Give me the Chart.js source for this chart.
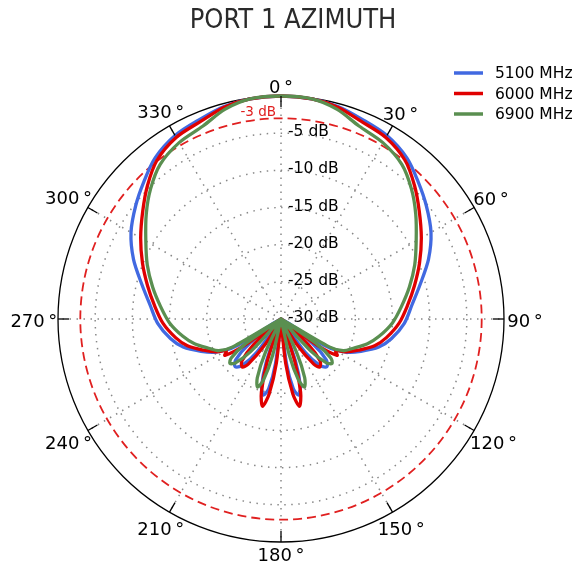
<!DOCTYPE html>
<html>
<head>
<meta charset="utf-8">
<script src="https://cdn.jsdelivr.net/npm/chart.js@4.4.1/dist/chart.umd.min.js"></script>
<style>
  html, body { margin: 0; padding: 0; background: #fff; }
  #wrap { position: relative; width: 584px; height: 565px; }
</style>
</head>
<body>
<div id="wrap"><canvas id="chart"></canvas></div>
<script>
// categories: one label per degree, clockwise from the top
const angleLabels = Array.from({ length: 360 }, (_, i) => i);
const angleTicks = [0, 30, 60, 90, 120, 150, 180, 210, 240, 270, 300, 330];
const ringValues = [-30, -25, -20, -15, -10, -5, -3, 0];
const ringLabels = [-5, -10, -15, -20, -25, -30];

const titleText = 'PORT 1 AZIMUTH';
const seriesNames = ['5100 MHz', '6000 MHz', '6900 MHz'];
const seriesColors = ['#4169e1', '#e00000', '#5a8f50'];

// 5100 MHz
const angles5100 = [0, 8, 15, 22, 30, 38, 45, 52, 60, 68, 76, 84, 92, 100, 106, 112, 117, 121, 124, 128, 132, 136, 140, 144, 148, 158, 161, 164, 167, 170, 173, 176, 180,
  184, 187, 190, 193, 196, 199, 202, 212, 216, 220, 224, 228, 232, 236, 239, 243, 248, 254, 260, 268, 276, 284, 292, 300, 308, 315, 322, 330, 338, 345, 352];
const gain5100 = [0, -0.1, -0.4, -1.0, -1.5, -2.5, -3.9, -5.2, -6.7, -8.6, -10.7, -12.3, -13.4, -14.9, -16.3, -18.4, -20.2, -22.8, -30, -24.5, -21.8, -21.1, -21.8, -24.5, -30, -30, -24, -20.5, -19.5, -20.5, -24, -30, -30,
  -30, -24, -20.5, -19.5, -20.5, -24, -30, -30, -24.5, -21.8, -21.1, -21.8, -24.5, -30, -22.8, -20.2, -18.4, -16.3, -14.9, -13.4, -12.3, -10.7, -8.6, -6.7, -5.2, -3.9, -2.5, -1.5, -1.0, -0.4, -0.1];

// 6000 MHz
const angles6000 = [0, 8, 15, 22, 30, 38, 45, 52, 60, 68, 76, 84, 92, 100, 106, 112, 117, 120, 123, 126, 129, 133, 137, 141, 144, 148, 151, 159, 162, 165, 168, 171, 174, 177, 180,
  183, 186, 189, 192, 195, 198, 201, 209, 212, 216, 219, 223, 227, 231, 234, 237, 240, 243, 248, 254, 260, 268, 276, 284, 292, 300, 308, 315, 322, 330, 338, 345, 352];
const gain6000 = [0, -0.1, -0.5, -1.3, -1.8, -2.9, -4.6, -6.4, -8.2, -9.9, -11.5, -12.9, -14.1, -15.6, -16.9, -18.8, -20.3, -21.5, -21.0, -24, -30, -25, -22.3, -21.7, -22.5, -26, -30, -30, -24, -19.8, -18, -19.8, -24, -30, -30,
  -30, -24, -19.8, -18, -19.8, -24, -30, -30, -26, -22.5, -21.7, -22.3, -25, -30, -24, -21.0, -21.5, -20.3, -18.8, -16.9, -15.6, -14.1, -12.9, -11.5, -9.9, -8.2, -6.4, -4.6, -2.9, -1.8, -1.3, -0.5, -0.1];

// 6900 MHz
const angles6900 = [0, 8, 15, 22, 30, 38, 45, 52, 60, 68, 76, 84, 92, 100, 106, 112, 117, 120, 122, 125, 128, 131, 134, 137, 140, 152, 155, 158, 161, 164, 167, 170, 180,
  190, 193, 196, 199, 202, 205, 208, 220, 223, 226, 229, 232, 235, 238, 240, 243, 248, 254, 260, 268, 276, 284, 292, 300, 308, 315, 322, 330, 338, 345, 352];
const gain6900 = [0, -0.1, -0.8, -2.0, -2.6, -3.6, -5.2, -7.0, -9.0, -10.6, -12.2, -13.7, -15.0, -16.6, -17.9, -19.5, -20.6, -22.5, -30, -24, -21.5, -20.9, -21.5, -24, -30, -30, -25, -21.5, -20.3, -21.5, -25, -30, -30,
  -30, -25, -21.5, -20.3, -21.5, -25, -30, -30, -24, -21.5, -20.9, -21.5, -24, -30, -22.5, -20.6, -19.5, -17.9, -16.6, -15.0, -13.7, -12.2, -10.6, -9.0, -7.0, -5.2, -3.6, -2.6, -2.0, -0.8, -0.1];

function polarSeries(angles, gains) {
  const out = new Array(angleLabels.length).fill(null);
  angles.forEach((a, i) => { out[a] = gains[i]; });
  return out;
}

const labelFont = '"DejaVu Sans", Verdana, sans-serif';

// everything drawn on top of the scale: ticks, labels, legend, title
const overlay = {
  id: 'overlay',
  afterDraw(chart) {
    const ctx = chart.ctx;
    const r = chart.scales.r;
    const R = r.getDistanceFromCenterForValue(r.max);
    ctx.save();

    // short inward ticks on the outer circle
    ctx.strokeStyle = '#000';
    ctx.lineWidth = 1.3;
    angleTicks.forEach(a => {
      const p1 = r.getPointPosition(a, R);
      const p2 = r.getPointPosition(a, R - 11);
      ctx.beginPath();
      ctx.moveTo(p1.x, p1.y);
      ctx.lineTo(p2.x, p2.y);
      ctx.stroke();
    });

    // angle labels, pushed out a little more where they are wide
    ctx.fillStyle = '#000';
    ctx.font = '18px ' + labelFont;
    ctx.textAlign = 'center';
    ctx.textBaseline = 'middle';
    angleTicks.forEach(a => {
      const text = a + '\u2009°';
      const w = ctx.measureText(text).width;
      const dist = R + 11 + 0.28 * w * Math.abs(Math.sin(a * Math.PI / 180));
      const p = r.getPointPosition(a, dist);
      ctx.fillText(text, p.x, p.y + 3);
    });

    // ring labels
    ctx.font = '15.5px ' + labelFont;
    ctx.textAlign = 'left';
    ringLabels.forEach(v => {
      const d = r.getDistanceFromCenterForValue(v);
      ctx.fillText(v + ' dB', r.xCenter + 7, r.yCenter - d - 1);
    });

    // -3 dB marker
    ctx.fillStyle = '#e02020';
    ctx.font = '13.5px ' + labelFont;
    ctx.textAlign = 'right';
    const d3 = r.getDistanceFromCenterForValue(-3);
    ctx.fillText('-3 dB', r.xCenter - 5, r.yCenter - d3 - 6);

    // legend
    ctx.font = '15.5px ' + labelFont;
    ctx.textAlign = 'left';
    chart.data.datasets.forEach((ds, i) => {
      const y = 73 + i * 20.5;
      ctx.strokeStyle = ds.borderColor;
      ctx.lineWidth = 3.5;
      ctx.beginPath();
      ctx.moveTo(454, y);
      ctx.lineTo(483, y);
      ctx.stroke();
      ctx.fillStyle = '#000';
      ctx.fillText(ds.label, 495, y + 1);
    });

    // title
    ctx.fillStyle = '#2a2a2a';
    ctx.font = '27px "Liberation Sans Narrow", "DejaVu Sans Condensed", sans-serif';
    ctx.textAlign = 'center';
    ctx.fillText(titleText, 293, 21);

    ctx.restore();
  }
};

new Chart(document.getElementById('chart'), {
  type: 'radar',
  data: {
    labels: angleLabels,
    datasets: [
      { label: seriesNames[0], data: polarSeries(angles5100, gain5100), borderColor: seriesColors[0], order: 2 },
      { label: seriesNames[1], data: polarSeries(angles6000, gain6000), borderColor: seriesColors[1], order: 1 },
      { label: seriesNames[2], data: polarSeries(angles6900, gain6900), borderColor: seriesColors[2], order: 0 }
    ]
  },
  options: {
    responsive: true,
    maintainAspectRatio: false,
    animation: false,
    spanGaps: true,
    layout: { padding: { left: 58, right: 80, top: 96, bottom: 23 } },
    elements: {
      point: { radius: 0, hoverRadius: 0 },
      line: { tension: 0.3, borderWidth: 3.3, fill: false, borderJoinStyle: 'round' }
    },
    plugins: {
      legend: { display: false },
      title: { display: false },
      tooltip: { enabled: false }
    },
    scales: {
      r: {
        min: -30,
        max: 0,
        afterBuildTicks: s => { s.ticks = ringValues.map(v => ({ value: v })); },
        ticks: { display: false },
        pointLabels: { display: false },
        grid: {
          circular: true,
          color: c => c.tick.value === 0 ? '#000' : (c.tick.value === -3 ? '#e02020' : (c.tick.value === -30 ? 'rgba(0,0,0,0)' : '#888')),
          lineWidth: c => c.tick.value === 0 ? 1.3 : (c.tick.value === -3 ? 1.8 : 1.5)
        },
        border: {
          dash: c => c.tick.value === 0 ? [] : (c.tick.value === -3 ? [9, 5] : [1.5, 5.5])
        },
        angleLines: {
          color: '#888',
          lineWidth: c => c.index % 30 === 0 ? 1.5 : 0,
          borderDash: [1.5, 5.5]
        }
      }
    }
  },
  plugins: [overlay]
});
</script>
</body>
</html>
